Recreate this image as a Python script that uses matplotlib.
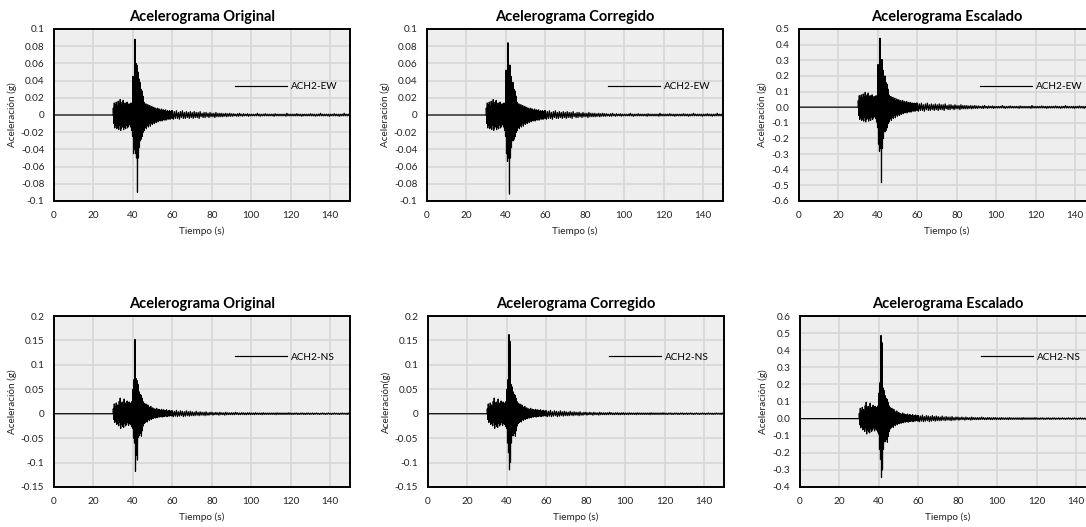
import numpy as np
import matplotlib
matplotlib.use("Agg")
import matplotlib.pyplot as plt

plt.rcParams["font.family"] = ["Lato", "DejaVu Sans"]

# ---------------------------------------------------------------------------
# Record timing (s)
T_START = 30.0       # onset of ground motion
STRONG_STEP = 0.5    # spacing of peak pairs during strong motion (30-60 s)
TAIL_START = 60.0
TAIL_STEP = 1.0      # spacing of peak pairs in the coda (60-150 s)
T_END = 150.0

# Peak accelerations (milli-g): positive peak then negative peak per step
EW_POS_STRONG = [8, 14, 12, 15, 11, 16, 13, 18, 12, 15,
                 17, 11, 14, 12, 15, 10, 13, 11, 14, 12,
                 45, 30, 88, 60, 58, 50, 42, 38, 30, 28,
                 22, 15, 12, 13, 10, 12, 9, 11, 8, 10,
                 8, 9, 7, 8, 6, 8, 6, 7, 5, 7,
                 5, 6, 5, 6, 4, 5, 4, 5, 4, 5]
EW_NEG_STRONG = [-10, -15, -12, -16, -14, -17, -12, -18, -15, -13,
                 -17, -14, -16, -12, -15, -13, -11, -14, -18, -25,
                 -45, -40, -45, -50, -90, -50, -38, -30, -28, -25,
                 -20, -18, -14, -16, -12, -14, -10, -13, -9, -11,
                 -8, -10, -7, -9, -6, -8, -6, -7, -5, -7,
                 -5, -6, -4, -6, -4, -5, -4, -5, -3, -4]
EW_POS_TAIL = [5, 4, 5, 3, 4, 5, 3, 4, 3, 4,
               3, 4, 3, 3, 4, 2, 3, 3, 2, 3,
               2, 2, 3, 2, 2, 2, 1.5, 2, 1.5, 2,
               1.5, 1.5, 1, 1.5, 2, 1, 1.5, 1, 1.5, 1,
               1, 1, 1, 2, 1, 1, 1, 1.5, 1, 1,
               1, 1, 1.5, 1, 1, 1, 1, 1, 2, 1,
               1, 1, 1, 1.5, 1, 1, 1, 1, 1, 1,
               1.5, 1, 1, 1, 1, 2, 1, 1, 1, 1,
               1, 1, 1.5, 1, 1, 1, 1, 2, 1, 1]
EW_NEG_TAIL = [-5, -4, -4, -5, -3, -4, -4, -3, -4, -3,
               -4, -3, -3, -4, -2, -3, -3, -2, -3, -2,
               -2, -3, -2, -2, -2, -2, -1.5, -2, -1.5, -1.5,
               -1.5, -1, -1.5, -1.5, -1, -1.5, -1, -1, -1.5, -1,
               -1, -1, -1, -1, -1.5, -1, -1, -1, -1, -1,
               -1, -1.5, -1, -1, -1, -1, -1, -1.5, -1, -1,
               -1, -1, -1, -1, -1, -1.5, -1, -1, -1, -1,
               -1, -1, -1.5, -1, -1, -1, -1, -1, -1, -1.5,
               -1, -1, -1, -1, -1.5, -1, -1, -1, -1, -1]

NS_POS_STRONG = [10, 20, 15, 22, 18, 16, 25, 32, 20, 24,
                 18, 30, 22, 20, 26, 18, 24, 20, 22, 25,
                 50, 70, 152, 72, 68, 60, 45, 40, 38, 32,
                 25, 22, 18, 20, 15, 18, 14, 12, 15, 10,
                 12, 9, 10, 8, 11, 7, 9, 8, 7, 9,
                 6, 8, 7, 6, 8, 5, 6, 7, 5, 6]
NS_NEG_STRONG = [-12, -18, -15, -22, -20, -25, -18, -30, -22, -26,
                 -28, -20, -25, -22, -18, -24, -20, -22, -26, -30,
                 -50, -60, -118, -85, -95, -48, -45, -40, -46, -35,
                 -25, -20, -18, -15, -17, -12, -14, -10, -12, -9,
                 -10, -8, -9, -7, -8, -6, -7, -6, -5, -7,
                 -5, -6, -5, -4, -6, -4, -5, -4, -4, -5]
NS_POS_TAIL = [6, 5, 7, 4, 6, 5, 4, 6, 4, 5,
               4, 3, 5, 3, 4, 3, 3, 4, 2, 3,
               3, 2, 3, 2, 3, 2, 2, 3, 2, 2,
               2, 2, 3, 2, 1.5, 2, 2, 1.5, 2, 2,
               1.5, 1.5, 2, 1.5, 1.5, 1.5, 2, 1.5, 1.5, 1.5,
               1.5, 1.5, 1.5, 2, 1.5, 1.5, 1.5, 1.5, 1.5, 2,
               1.5, 1, 1.5, 1.5, 1, 1.5, 1.5, 1, 1.5, 1.5,
               1, 1.5, 1, 1.5, 1, 1, 1.5, 1, 1, 1.5,
               1, 1, 1.5, 1, 1, 1, 1.5, 1, 1, 1.5]
NS_NEG_TAIL = [-6, -5, -6, -5, -4, -6, -5, -4, -5, -4,
               -4, -4, -3, -4, -3, -3, -4, -3, -3, -2,
               -3, -2, -2, -3, -2, -2, -3, -2, -2, -2,
               -2, -2, -1.5, -2, -2, -1.5, -2, -2, -1.5, -2,
               -1.5, -2, -1.5, -1.5, -1.5, -2, -1.5, -1.5, -1.5, -1.5,
               -1.5, -1.5, -2, -1.5, -1.5, -1.5, -1.5, -1.5, -1.5, -1.5,
               -1.5, -1.5, -1, -1.5, -1.5, -1, -1.5, -1.5, -1, -1.5,
               -1, -1.5, -1, -1, -1.5, -1, -1, -1.5, -1, -1,
               -1.5, -1, -1, -1, -1.5, -1, -1, -1, -1.5, -1]

# Baseline-corrected records differ only around the main pulse (index -> (pos, neg))
EW_CORRECTED_EDITS = {20: (52, -45), 21: (30, -54), 22: (84, -50), 23: (58, -92),
                      24: (58, -50), 25: (45, -38), 26: (36, -30)}
NS_CORRECTED_EDITS = {20: (50, -60), 21: (70, -80), 22: (162, -115), 23: (148, -100),
                      24: (60, -60), 25: (55, -45)}

# Scale factors applied to the corrected records
EW_SCALE = 5.25
NS_SCALE = 3.0

TITLES = ["Acelerograma Original", "Acelerograma Corregido", "Acelerograma Escalado"]
XTICKS = [0, 20, 40, 60, 80, 100, 120, 140]

EW_YTICKS = [-0.1, -0.08, -0.06, -0.04, -0.02, 0, 0.02, 0.04, 0.06, 0.08, 0.1]
EW_YLABELS = ["-0.1", "-0.08", "-0.06", "-0.04", "-0.02", "0",
              "0.02", "0.04", "0.06", "0.08", "0.1"]
EW_SC_YTICKS = [-0.6, -0.5, -0.4, -0.3, -0.2, -0.1, 0.0, 0.1, 0.2, 0.3, 0.4, 0.5]
EW_SC_YLABELS = ["-0.6", "-0.5", "-0.4", "-0.3", "-0.2", "-0.1", "0.0",
                 "0.1", "0.2", "0.3", "0.4", "0.5"]
NS_YTICKS = [-0.15, -0.1, -0.05, 0, 0.05, 0.1, 0.15, 0.2]
NS_YLABELS = ["-0.15", "-0.1", "-0.05", "0", "0.05", "0.1", "0.15", "0.2"]
NS_SC_YTICKS = [-0.4, -0.3, -0.2, -0.1, 0.0, 0.1, 0.2, 0.3, 0.4, 0.5, 0.6]
NS_SC_YLABELS = ["-0.4", "-0.3", "-0.2", "-0.1", "0.0", "0.1",
                 "0.2", "0.3", "0.4", "0.5", "0.6"]


def build_trace(pos_strong, neg_strong, pos_tail, neg_tail, edits=None, scale=1.0):
    """Return time / acceleration (g) arrays from the listed peak pairs."""
    pos_strong = list(pos_strong)
    neg_strong = list(neg_strong)
    if edits:
        for i, (p, n) in edits.items():
            pos_strong[i], neg_strong[i] = p, n
    t = [0.0, T_START]
    a = [0.0, 0.0]
    for i, (p, n) in enumerate(zip(pos_strong, neg_strong)):
        t0 = T_START + i * STRONG_STEP
        t += [t0 + 0.05, t0 + 0.05 + STRONG_STEP / 2]
        a += [p, n]
    for i, (p, n) in enumerate(zip(pos_tail, neg_tail)):
        t0 = TAIL_START + i * TAIL_STEP
        t += [t0 + 0.05, t0 + 0.05 + TAIL_STEP / 2]
        a += [p, n]
    t.append(T_END)
    a.append(0.0)
    return np.array(t), np.array(a) / 1000.0 * scale


ew_orig = build_trace(EW_POS_STRONG, EW_NEG_STRONG, EW_POS_TAIL, EW_NEG_TAIL)
ew_corr = build_trace(EW_POS_STRONG, EW_NEG_STRONG, EW_POS_TAIL, EW_NEG_TAIL,
                      EW_CORRECTED_EDITS)
ew_scal = build_trace(EW_POS_STRONG, EW_NEG_STRONG, EW_POS_TAIL, EW_NEG_TAIL,
                      EW_CORRECTED_EDITS, EW_SCALE)
ns_orig = build_trace(NS_POS_STRONG, NS_NEG_STRONG, NS_POS_TAIL, NS_NEG_TAIL)
ns_corr = build_trace(NS_POS_STRONG, NS_NEG_STRONG, NS_POS_TAIL, NS_NEG_TAIL,
                      NS_CORRECTED_EDITS)
ns_scal = build_trace(NS_POS_STRONG, NS_NEG_STRONG, NS_POS_TAIL, NS_NEG_TAIL,
                      NS_CORRECTED_EDITS, NS_SCALE)

W, H = 1086, 527
fig = plt.figure(figsize=(W / 100, H / 100), dpi=100)

AX_W = 296
LEFTS = [[54, 427, 799], [54, 428, 800]]
ROW_TOP = [29, 316]
ROW_H = [172, 171]

panels = [
    # row, col, data, ylim, ticks, labels, ylabel, legend label
    (0, 0, ew_orig, (-0.1, 0.1), EW_YTICKS, EW_YLABELS, "Aceleración (g)", "ACH2-EW"),
    (0, 1, ew_corr, (-0.1, 0.1), EW_YTICKS, EW_YLABELS, "Aceleración (g)", "ACH2-EW"),
    (0, 2, ew_scal, (-0.6, 0.5), EW_SC_YTICKS, EW_SC_YLABELS, "Aceleración (g)", "ACH2-EW"),
    (1, 0, ns_orig, (-0.15, 0.2), NS_YTICKS, NS_YLABELS, "Aceleración (g)", "ACH2-NS"),
    (1, 1, ns_corr, (-0.15, 0.2), NS_YTICKS, NS_YLABELS, "Aceleración(g)", "ACH2-NS"),
    (1, 2, ns_scal, (-0.4, 0.6), NS_SC_YTICKS, NS_SC_YLABELS, "Aceleración (g)", "ACH2-NS"),
]

LEG_Y = [0.663, 0.76]

for row, col, (t, a), ylim, yt, yl, ylab, leg in panels:
    left = LEFTS[row][col]
    top = ROW_TOP[row]
    h = ROW_H[row]
    ax = fig.add_axes([left / W, (H - top - h) / H, AX_W / W, h / H])
    ax.set_facecolor("#eeeeee")
    ax.plot(t, a, color="black", linewidth=0.85, label=leg)
    ax.set_xlim(0, 150)
    ax.set_ylim(*ylim)
    ax.set_xticks(XTICKS)
    ax.set_xticklabels([str(x) for x in XTICKS])
    ax.set_yticks(yt)
    ax.set_yticklabels(yl)
    ax.grid(True, color="#d8d8d8", linewidth=1.3)
    ax.set_axisbelow(True)
    ax.tick_params(length=0, labelsize=7.2, pad=7, colors="#222222")
    for s in ax.spines.values():
        s.set_linewidth(1.4)
        s.set_color("black")
    ax.set_title(TITLES[col], fontsize=10.5, fontweight="bold", pad=6)
    ax.set_xlabel("Tiempo (s)", fontsize=7.2, color="#222222", labelpad=5)
    ax.set_ylabel(ylab, fontsize=7.2, color="#222222", labelpad=3)
    ax.legend(loc="center left", bbox_to_anchor=(0.61, LEG_Y[row]), frameon=False,
              handlelength=5.2, handletextpad=0.45, borderpad=0, borderaxespad=0,
              fontsize=7.2)

fig.savefig("out.png", dpi=100)
